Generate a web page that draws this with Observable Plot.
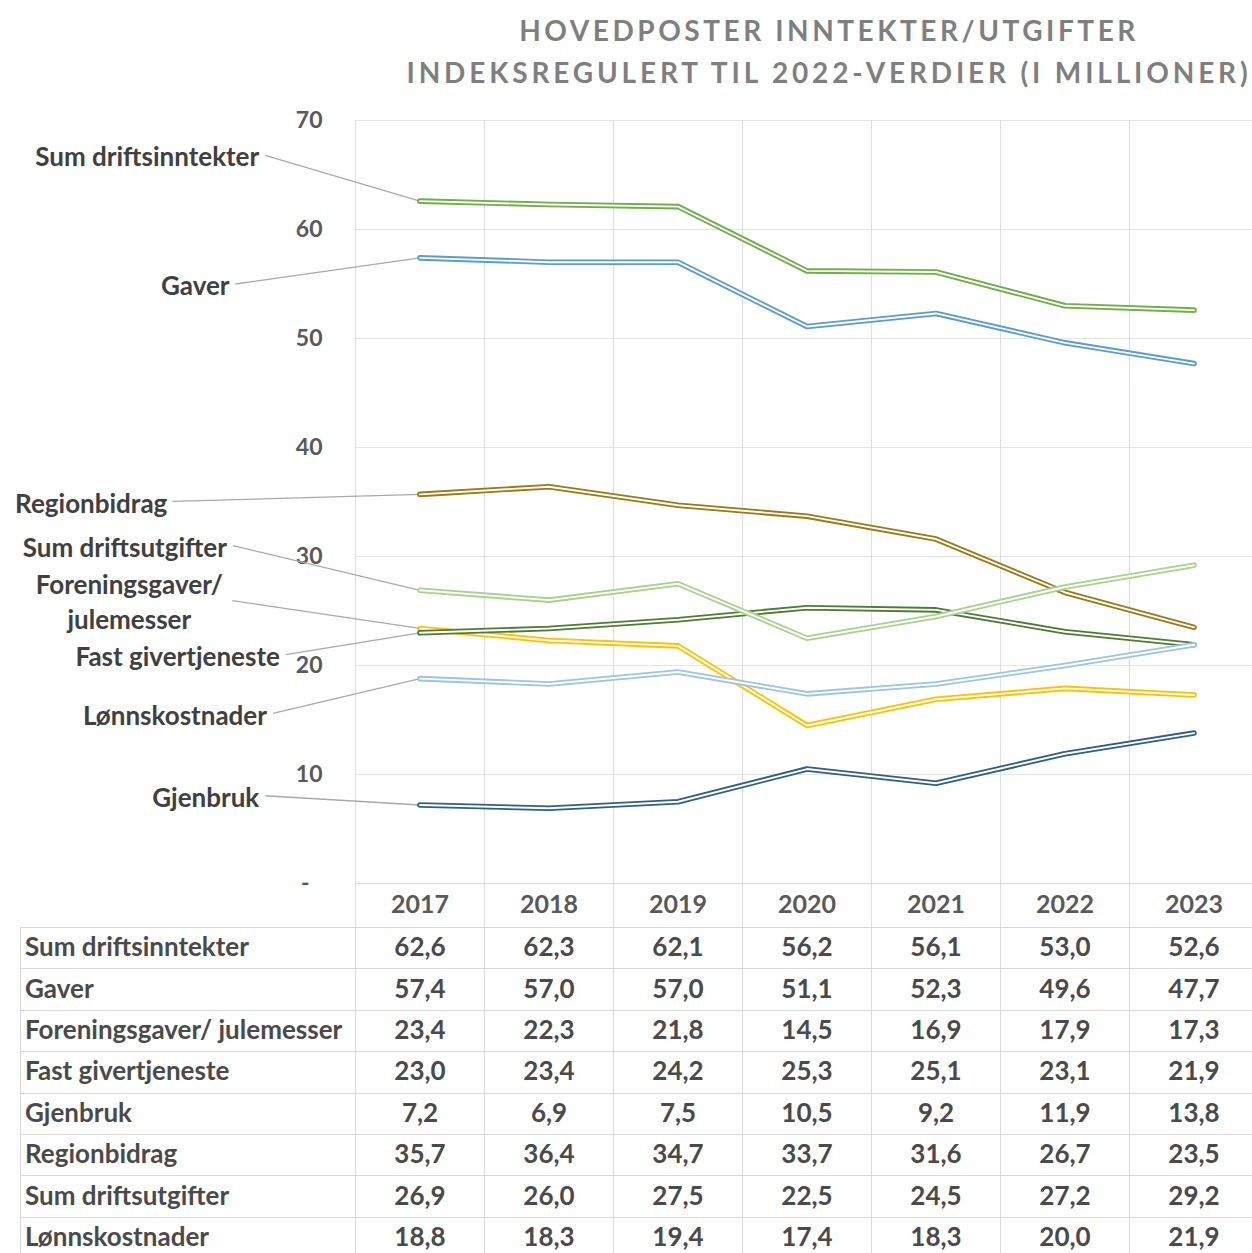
<!DOCTYPE html>
<html><head><meta charset="utf-8">
<script src="https://cdn.jsdelivr.net/npm/d3@7"></script>
<script src="https://cdn.jsdelivr.net/npm/@observablehq/plot@0.6"></script>
<style>
html,body{margin:0;padding:0;background:#fff;overflow:hidden;}
body{width:1252px;height:1253px;font-family:Lato,"Open Sans",sans-serif;font-weight:bold;}
#title{position:relative;height:100px;}
#title div{position:absolute;left:829px;transform:translate(-50%,-50%);white-space:nowrap;color:#7f7f7f;font-size:28px;letter-spacing:3.55px;}
svg{display:block;}
table{border-collapse:collapse;table-layout:fixed;margin-left:20px;color:#4a4a4a;font-size:26px;}
td{border:1px solid #d9d9d9;height:41.4px;padding:0 0 4px 0;box-sizing:border-box;}
td.lab{padding-left:4px;text-align:left;}
td.num{text-align:center;}
</style>
</head><body>
<div id="title"><div style="top:30px">HOVEDPOSTER INNTEKTER/UTGIFTER</div><div style="top:72px;letter-spacing:3.85px">INDEKSREGULERT TIL 2022-VERDIER (I MILLIONER)</div></div>
<div id="chart"></div>
<table id="tbl"></table>
<script>
// ---- data ----
const years = [2017, 2018, 2019, 2020, 2021, 2022, 2023];
const seriesNames = ["Sum driftsinntekter", "Gaver", "Foreningsgaver/ julemesser", "Fast givertjeneste", "Gjenbruk", "Regionbidrag", "Sum driftsutgifter", "Lønnskostnader"];
const sumDriftsinntekter = [62.6, 62.3, 62.1, 56.2, 56.1, 53.0, 52.6];
const gaver = [57.4, 57.0, 57.0, 51.1, 52.3, 49.6, 47.7];
const foreningsgaver = [23.4, 22.3, 21.8, 14.5, 16.9, 17.9, 17.3];
const fastGivertjeneste = [23.0, 23.4, 24.2, 25.3, 25.1, 23.1, 21.9];
const gjenbruk = [7.2, 6.9, 7.5, 10.5, 9.2, 11.9, 13.8];
const regionbidrag = [35.7, 36.4, 34.7, 33.7, 31.6, 26.7, 23.5];
const sumDriftsutgifter = [26.9, 26.0, 27.5, 22.5, 24.5, 27.2, 29.2];
const lonnskostnader = [18.8, 18.3, 19.4, 17.4, 18.3, 20.0, 21.9];
const yTicks = [10, 20, 30, 40, 50, 60, 70];
const zeroTickLabel = "-";

const values = [sumDriftsinntekter, gaver, foreningsgaver, fastGivertjeneste, gjenbruk, regionbidrag, sumDriftsutgifter, lonnskostnader];

// ---- styles / annotation layout ----
const colors = ["#70ad47", "#5b9bd5", "#ffc000", "#4e7b31", "#2f5e8e", "#9c7912", "#a9d18e", "#9dc3e6"];
// label anchor (x in column units, y in data units)
const labelLayout = [
  {text: "Sum driftsinntekter", x: -1.2, y: 66.8, anchor: "end", dx: -6},
  {text: "Gaver", x: -1.43, y: 55.0, anchor: "end", dx: -6},
  {text: "Foreningsgaver/\njulemesser", x: -1.455, y: 25.95, anchor: "middle", dx: -103},
  {text: "Fast givertjeneste", x: -1.04, y: 21.0, anchor: "end", dx: -6},
  {text: "Gjenbruk", x: -1.2, y: 8.05, anchor: "end", dx: -6},
  {text: "Regionbidrag", x: -1.92, y: 35.05, anchor: "end", dx: -5},
  {text: "Sum driftsutgifter", x: -1.45, y: 31.0, anchor: "end", dx: -6},
  {text: "Lønnskostnader", x: -1.14, y: 15.6, anchor: "end", dx: -6}
];
const labels = labelLayout.map((l, i) => ({...l, target: values[i][0]}));

const lineMarks = values.flatMap((vals, i) => [
  Plot.line(vals, {x: (d, j) => j, y: d => d, stroke: colors[i], strokeWidth: 5.6, strokeLinejoin: "round"}),
  Plot.line(vals, {x: (d, j) => j, y: d => d, stroke: "white", strokeWidth: 1.9, strokeLinejoin: "round"})
]);

const labelMarks = labels.map(l => Plot.text([l], {
  x: d => d.x, y: d => d.y, text: d => d.text, textAnchor: l.anchor, dx: l.dx,
  fontSize: 26, fill: "#404040", lineHeight: 1.33
}));

const bounds = d3.range(0, years.length + 1).map(i => i - 0.5);

const chart = Plot.plot({
  width: 1252,
  height: 827,
  marginLeft: 355,
  marginRight: 0,
  marginTop: 20,
  marginBottom: 44,
  style: {fontFamily: "Lato, 'Open Sans', sans-serif", fontWeight: "bold", background: "white"},
  x: {type: "linear", domain: [-0.5, years.length - 0.5], range: [355, 1258], axis: null},
  y: {domain: [0, 70], range: [783, 20], axis: null},
  marks: [
    Plot.ruleY(yTicks, {stroke: "#e6e6e6", strokeWidth: 1}),
    Plot.ruleX(bounds, {x: d => d, stroke: "#dedede", strokeWidth: 1, insetBottom: -44}),
    Plot.ruleY([0], {stroke: "#d9d9d9", strokeWidth: 1.2}),
    Plot.axisY(yTicks, {tickSize: 0, tickPadding: 33, fontSize: 23, fill: "#595959", tickFormat: d => String(d)}),
    Plot.text([zeroTickLabel], {frameAnchor: "left", y: 0, text: d => d, textAnchor: "end", dx: -46, fontSize: 23, fill: "#595959"}),
    Plot.text(years, {x: (d, i) => i, frameAnchor: "bottom", dy: 29, text: d => String(d), fontSize: 25, fill: "#595959"}),
    Plot.link(labels, {x1: d => d.x, y1: d => d.y, x2: 0, y2: d => d.target, stroke: "#a9a9a9", strokeWidth: 1.3}),
    ...lineMarks,
    ...labelMarks
  ]
});
document.getElementById("chart").appendChild(chart);

// ---- table ----
const tbl = document.getElementById("tbl");
const colg = document.createElement("colgroup");
const c0 = document.createElement("col"); c0.style.width = "335px"; colg.appendChild(c0);
years.forEach(() => { const c = document.createElement("col"); c.style.width = "129px"; colg.appendChild(c); });
tbl.appendChild(colg);
tbl.style.width = (335 + 129 * years.length) + "px";
seriesNames.forEach((name, i) => {
  const tr = document.createElement("tr");
  const td = document.createElement("td"); td.className = "lab"; td.textContent = name; tr.appendChild(td);
  values[i].forEach(v => {
    const c = document.createElement("td"); c.className = "num"; c.textContent = v.toFixed(1).replace(".", ","); tr.appendChild(c);
  });
  tbl.appendChild(tr);
});
</script>
</body></html>
